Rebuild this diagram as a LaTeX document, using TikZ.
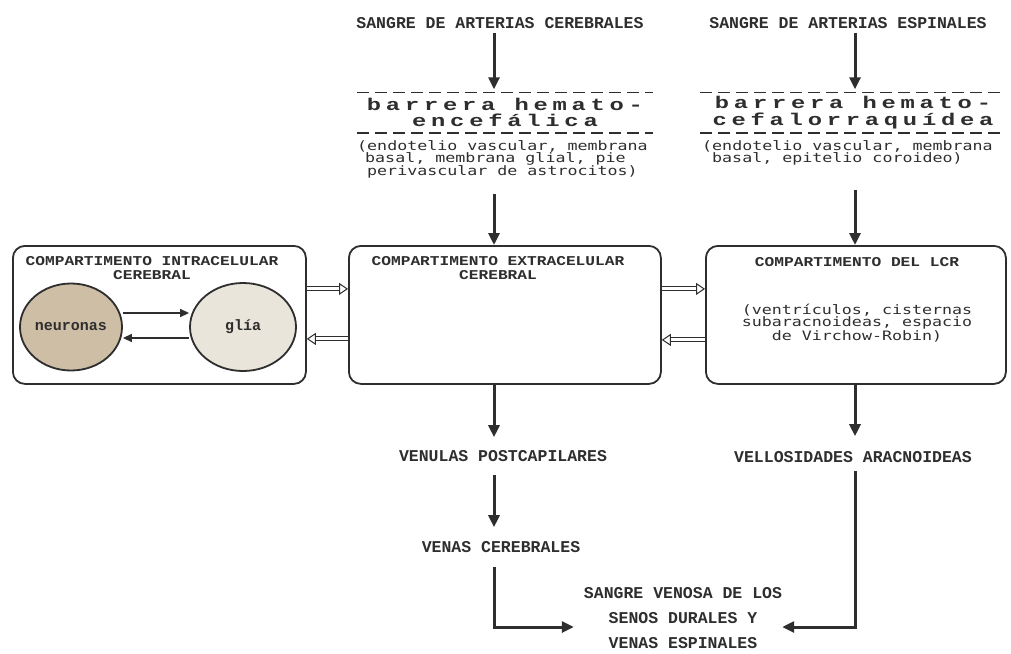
\documentclass[tikz,border=0pt]{standalone}
\usepackage{fontspec}
\usetikzlibrary{arrows.meta,shapes.geometric}
\newfontfamily\capsf{Liberation Mono}
\newfontfamily\capw[FakeStretch=1.2]{Liberation Mono}
\newfontfamily\parf[FakeStretch=1.28]{DejaVu Sans Mono}
\newfontfamily\barf[FakeStretch=1.4,LetterSpace=28]{Liberation Mono}
\definecolor{ink}{HTML}{2E2E2E}
\definecolor{neu}{HTML}{CFBEA6}
\definecolor{gli}{HTML}{EAE5DA}
\tikzset{
  lbl/.style={inner sep=0pt, text=ink, align=center, font=\capsf\bfseries\fontsize{16.5}{14}\selectfont},
  ttl/.style={inner sep=0pt, text=ink, align=center, font=\capw\bfseries\fontsize{13.5}{14}\selectfont},
  biglbl/.style={inner sep=0pt, text=ink, align=center, font=\capsf\bfseries\fontsize{16.5}{25}\selectfont},
  partxt/.style={inner sep=0pt, text=ink, font=\parf\fontsize{13}{12}\selectfont},
  hd/.style={inner sep=0pt, text=ink, align=center, font=\barf\bfseries\fontsize{17}{16.5}\selectfont},
  dashrule/.style={draw=ink, line width=1.6pt, dash pattern=on 12pt off 6pt},
  compbox/.style={draw=ink, line width=1.8pt, rounded corners=12pt, anchor=north west, minimum height=138pt},
  cell/.style={ellipse, draw=ink, line width=1.8pt, inner sep=0pt, text=ink, font=\capsf\bfseries\fontsize{15}{15}\selectfont},
  big/.style={draw=ink, line width=3pt, -{Triangle[length=12pt,width=11pt]}},
  small/.style={draw=ink, line width=1.4pt, -{Triangle[length=9pt,width=8pt]}},
  hollow/.style={draw=ink, line width=1pt, double=white, double distance=3pt, -{Triangle[open,length=9pt,width=12pt]}}
}
\begin{document}
\begin{tikzpicture}[x=1pt,y=-1pt]
\useasboundingbox[fill=white] (0,0) rectangle (1011,653);
\coordinate (colA) at (494,0);
\coordinate (colB) at (855,0);
\coordinate (jn) at (0,627);

% top sources
\node[lbl] (sangre1) at (500,23) {SANGRE DE ARTERIAS CEREBRALES};
\node[lbl] (sangre2) at (848,23) {SANGRE DE ARTERIAS ESPINALES};

% barriers
\node[hd, minimum width=296pt, minimum height=40pt] (bar1) at (505,112.5) {barrera hemato-\\encefálica};
\draw[dashrule] (bar1.north west) -- (bar1.north east);
\draw[dashrule] (bar1.south west) -- (bar1.south east);
\node[partxt, align=left, anchor=north west] (par1) at (357,140) {(endotelio vascular, membrana\\\hspace*{8pt}basal, membrana glial, pie\\\hspace*{10pt}perivascular de astrocitos)};

\node[hd, minimum width=305pt, minimum height=40pt] (bar2) at (853,112.5) {barrera hemato-\\cefalorraquídea};
\draw[dashrule] (bar2.north west) -- (bar2.north east);
\draw[dashrule] (bar2.south west) -- (bar2.south east);
\node[partxt, align=left, anchor=north west] (par2) at (702,140) {(endotelio vascular, membrana\\\hspace*{10pt}basal, epitelio coroideo)};

% compartments
\node[compbox, minimum width=293pt] (intra) at (12,245) {};
\node[ttl, anchor=north] (intraT) at (152,256) {COMPARTIMENTO INTRACELULAR\\CEREBRAL};
\node[cell, fill=neu, minimum width=102pt, minimum height=87pt] (neur) at (71,327) {neuronas};
\node[cell, fill=gli, minimum width=106pt, minimum height=88pt] (glia) at (243,327) {glía};

\node[compbox, minimum width=312pt] (extra) at (348,245) {};
\node[ttl, anchor=north] (extraT) at (498,256) {COMPARTIMENTO EXTRACELULAR\\CEREBRAL};

\node[compbox, minimum width=300pt] (lcr) at (705,245) {};
\node[ttl, anchor=north] (lcrT) at (857,257) {COMPARTIMENTO DEL LCR};
\node[partxt, align=center] (lcrP) at (857,323) {(ventrículos, cisternas\\subaracnoideas, espacio\\de Virchow-Robin)};

% outputs
\node[lbl] (venulas) at (503,456) {VENULAS POSTCAPILARES};
\node[lbl] (venas) at (501,547) {VENAS CEREBRALES};
\node[lbl] (vellos) at (853,457) {VELLOSIDADES ARACNOIDEAS};
\node[biglbl] (senos) at (683,618) {SANGRE VENOSA DE LOS\\SENOS DURALES Y\\VENAS ESPINALES};

% connectors
\draw[big, shorten <=4pt, shorten >=3pt] (sangre1.south -| colA) -- (bar1.north -| colA);
\draw[big, shorten <=4pt, shorten >=3pt] (sangre2.south -| colB) -- (bar2.north -| colB);
\draw[big, shorten <=15pt] (par1.south -| colA) -- (extra.north -| colA);
\draw[big, shorten <=25pt] (par2.south -| colB) -- (lcr.north -| colB);

\draw[small] ([yshift=14pt]neur.east) -- ([yshift=14pt]glia.west);
\draw[small] ([yshift=-11pt]glia.west) -- ([yshift=-11pt]neur.east);

\draw[hollow] ([yshift=26pt]intra.east) -- ([yshift=26pt]intra.east -| extra.west);
\draw[hollow] ([yshift=-24pt]extra.west) -- ([yshift=-24pt]extra.west -| intra.east);
\draw[hollow] ([yshift=26pt]extra.east) -- ([yshift=26pt]extra.east -| lcr.west);
\draw[hollow] ([yshift=-25pt]lcr.west) -- ([yshift=-25pt]lcr.west -| extra.east);

\draw[big, shorten >=13pt] (extra.south -| colA) -- (venulas.north -| colA);
\draw[big, shorten <=13pt, shorten >=14pt] (venulas.south -| colA) -- (venas.north -| colA);
\draw[big, shorten >=15pt] (lcr.south -| colB) -- (vellos.north -| colB);
\draw[big, shorten <=14pt, shorten >=10pt] (venas.south -| colA) |- (jn -| senos.west);
\draw[big, shorten <=8pt] (vellos.south -| colB) |- (jn -| senos.east);
\end{tikzpicture}
\end{document}
